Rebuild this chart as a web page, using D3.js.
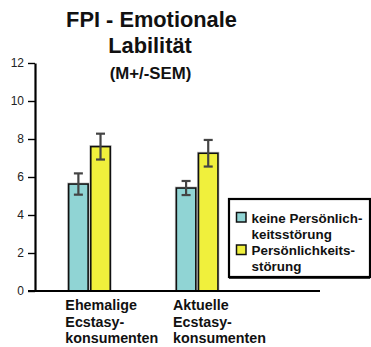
<!DOCTYPE html>
<html>
<head>
<meta charset="utf-8">
<script src="https://cdn.jsdelivr.net/npm/d3@7/dist/d3.min.js"></script>
<style>
  html, body { margin: 0; padding: 0; background: #fff; }
  svg { display: block; font-family: "Liberation Sans", Arial, sans-serif; }
</style>
</head>
<body>
<svg id="chart" width="371" height="347"></svg>
<script>
// FPI scale "Emotionale Labilität": means and standard errors per group
const categories = [
  ["Ehemalige", "Ecstasy-", "konsumenten"],
  ["Aktuelle", "Ecstasy-", "konsumenten"]
];
const groupKeys = ["ehemalige", "aktuelle"];
const seriesNames = ["keine Persönlichkeitsstörung", "Persönlichkeitsstörung"];
const legendLines = [
  ["keine Persönlich-", "keitsstörung"],
  ["Persönlichkeits-", "störung"]
];
const meanNoPD = [5.63, 5.42];
const semNoPD  = [0.56, 0.37];
const meanPD   = [7.6, 7.25];
const semPD    = [0.68, 0.70];
const yTicks = [0, 2, 4, 6, 8, 10, 12];
const colors = ["#90d4d4", "#f0f03c"];

const svg = d3.select("#chart");

const y = d3.scaleLinear().domain([0, 12]).range([291, 63]);
const x0 = d3.scaleBand().domain(groupKeys).range([35.6, 251]).paddingInner(0).paddingOuter(0);
const bw = x0.bandwidth();
const x1 = d3.scaleBand().domain(seriesNames)
  .range([bw / 2 - 20.8, bw / 2 + 20.8]).paddingInner(0.12).paddingOuter(0);

const rows = groupKeys.map((g, i) => ({
  key: g,
  values: [
    { s: seriesNames[0], m: meanNoPD[i], e: semNoPD[i] },
    { s: seriesNames[1], m: meanPD[i], e: semPD[i] }
  ]
}));

// Title
const title = svg.append("g").attr("font-weight", "bold").attr("fill", "#111")
  .attr("text-anchor", "middle");
title.append("text").attr("x", 151.5).attr("y", 27).attr("font-size", 21.8).text("FPI - Emotionale");
title.append("text").attr("x", 150).attr("y", 53).attr("font-size", 21.8).text("Labilität");
title.append("text").attr("x", 150.5).attr("y", 79).attr("font-size", 16.8).text("(M+/-SEM)");

// Bars
const groups = svg.append("g").selectAll("g").data(rows).join("g")
  .attr("transform", d => `translate(${x0(d.key)},0)`);

groups.selectAll("rect.halo").data(d => d.values).join("rect")
  .attr("class", "halo")
  .attr("x", d => x1(d.s) - 1)
  .attr("y", d => y(d.m) - 1)
  .attr("width", x1.bandwidth() + 2)
  .attr("height", d => y(0) - y(d.m) + 1)
  .attr("fill", "none")
  .attr("stroke", "#c8c8c8")
  .attr("stroke-width", 1);

groups.selectAll("rect.bar").data(d => d.values).join("rect")
  .attr("class", "bar")
  .attr("x", d => x1(d.s))
  .attr("y", d => y(d.m))
  .attr("width", x1.bandwidth())
  .attr("height", d => y(0) - y(d.m))
  .attr("fill", (d, i) => colors[i])
  .attr("stroke", "#111")
  .attr("stroke-width", 1.6);

// Error bars
const err = groups.selectAll("g.err").data(d => d.values).join("g")
  .attr("class", "err")
  .attr("transform", d => `translate(${x1(d.s) + x1.bandwidth() / 2},0)`)
  .attr("stroke", "#444")
  .attr("stroke-width", 2.2);
err.append("line").attr("y1", d => y(d.m + d.e)).attr("y2", d => y(d.m - d.e));
err.append("line").attr("x1", -4.5).attr("x2", 4.5).attr("y1", d => y(d.m + d.e)).attr("y2", d => y(d.m + d.e));
err.append("line").attr("x1", -4.5).attr("x2", 4.5).attr("y1", d => y(d.m - d.e)).attr("y2", d => y(d.m - d.e));

// Y axis
const yAxis = svg.append("g").attr("transform", "translate(35,0)")
  .call(d3.axisLeft(y).tickValues(yTicks).tickSize(7).tickPadding(4).tickSizeOuter(0));
yAxis.select(".domain").attr("stroke", "#000").attr("stroke-width", 2.2);
yAxis.selectAll(".tick line").attr("stroke", "#000").attr("stroke-width", 1.4);
yAxis.selectAll(".tick text").attr("font-size", 12).attr("fill", "#222")
  .attr("font-family", "Liberation Sans, Arial, sans-serif");

// X axis baseline
svg.append("line")
  .attr("x1", 28).attr("x2", 320)
  .attr("y1", y(0)).attr("y2", y(0))
  .attr("stroke", "#000").attr("stroke-width", 2.2);

// Category labels
const catLabels = svg.append("g").attr("font-weight", "bold").attr("font-size", 14.3).attr("fill", "#111");
rows.forEach((r, i) => {
  const t = catLabels.append("text")
    .attr("x", x0(r.key) + x1(seriesNames[0]) - 3.3)
    .attr("y", 310);
  categories[i].forEach((line, j) => {
    t.append("tspan").attr("x", x0(r.key) + x1(seriesNames[0]) - 3.3)
      .attr("dy", j === 0 ? 0 : 16.5).text(line);
  });
});

// Legend
const legend = svg.append("g").attr("transform", "translate(229,199)");
legend.append("rect")
  .attr("x", 0).attr("y", 0).attr("width", 141).attr("height", 78)
  .attr("fill", "#fff").attr("stroke", "#000").attr("stroke-width", 2.2);
legend.append("line")
  .attr("x1", 0).attr("x2", 141).attr("y1", 79).attr("y2", 79)
  .attr("stroke", "#000").attr("stroke-width", 1.5);
seriesNames.forEach((s, i) => {
  const gy = 13.5 + i * 32.5;
  legend.append("rect")
    .attr("x", 7.5).attr("y", gy).attr("width", 9.5).attr("height", 9.5)
    .attr("fill", colors[i]).attr("stroke", "#111").attr("stroke-width", 1.5);
  const t = legend.append("text")
    .attr("font-weight", "bold").attr("font-size", 13.4).attr("fill", "#111")
    .attr("x", 22.5).attr("y", gy + 10);
  legendLines[i].forEach((line, j) => {
    t.append("tspan").attr("x", 22.5).attr("dy", j === 0 ? 0 : 16.3).text(line);
  });
});
</script>
</body>
</html>
